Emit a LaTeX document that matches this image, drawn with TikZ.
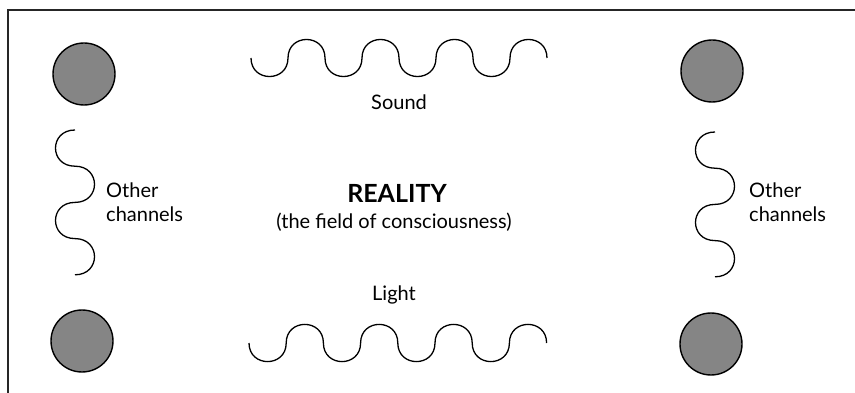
\documentclass[tikz,border=0pt]{standalone}
\usepackage{fontspec}
\setmainfont{Lato}
\begin{document}
\begin{tikzpicture}[x=1pt,y=-1pt,
  frameline/.style={line width=1.6pt,draw=black!85},
  dot/.style={circle,draw=black,line width=1.4pt,fill=black!48,minimum size=62pt,inner sep=0pt},
  wave/.style={line width=1.3pt,draw=black},
  lbl/.style={font=\fontsize{20}{24}\selectfont,inner sep=0pt,anchor=base},
  side/.style={font=\fontsize{20}{24}\selectfont,inner sep=0pt,anchor=base west}]
\path[use as bounding box] (0,0) rectangle (855,393);
% frame (top and left edges)
\coordinate (ftr) at (855,10);
\coordinate (ftl) at (8,10);
\coordinate (fbl) at (8,393);
\draw[frameline] (ftr) -- (ftl) -- (fbl);
% circles
\node[dot] (c1) at (84,74) {};
\node[dot] (c2) at (712,71) {};
\node[dot] (c3) at (82,341) {};
\node[dot] (c4) at (711,344) {};
% sound wave
\draw[wave] (251,58) \foreach \i in {1,...,4} { .. controls +(0,24.7) and +(0,24.7) .. ++(37,0) .. controls +(0,-24.7) and +(0,-24.7) .. ++(37,0) };
% light wave
\draw[wave] (249,343) \foreach \i in {1,...,4} { .. controls +(0,24.8) and +(0,24.8) .. ++(37.2,0) .. controls +(0,-24.8) and +(0,-24.8) .. ++(37.2,0) };
% left squiggle
\draw[wave] (75,130) \foreach \i in {1,...,2} { .. controls +(-26,0) and +(-26,0) .. ++(0,36.2) .. controls +(26,0) and +(26,0) .. ++(0,36.2) };
% right squiggle
\draw[wave] (715,132) \foreach \i in {1,...,2} { .. controls +(-26,0) and +(-26,0) .. ++(0,36.2) .. controls +(26,0) and +(26,0) .. ++(0,36.2) };
% texts
\node[lbl] (sound) at (399,110) {Sound};
\node[lbl,font=\fontsize{25}{30}\selectfont\bfseries] (real) at (397,203) {REALITY};
\node[lbl] (field) at (394,229) {(the field of consciousness)};
\node[lbl] (light) at (394,300) {Light};
\node[side] (o1) at (106,198) {Other};
\node[side] (o2) at (106,222) {channels};
\node[side] (o3) at (749,198) {Other};
\node[side] (o4) at (749,222) {channels};
\end{tikzpicture}
\end{document}
